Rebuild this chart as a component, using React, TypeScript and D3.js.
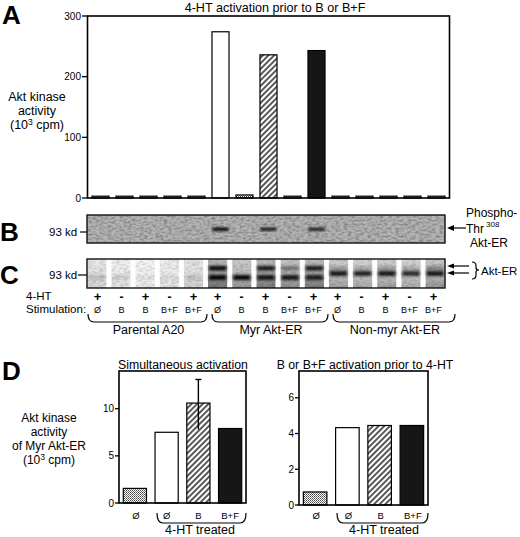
import React from 'react';
import * as d3 from 'd3';

const FONT = '"Liberation Sans", Arial, Helvetica, sans-serif';

// ---- data ----
const hormone = ['+', '-', '+', '-', '+', '+', '-', '+', '-', '+', '+', '-', '+', '-', '+'];
const stimulation = ['Ø', 'B', 'B', 'B+F', 'B+F', 'Ø', 'B', 'B', 'B+F', 'B+F', 'Ø', 'B', 'B', 'B+F', 'B+F'];
const groups = ['Parental A20', 'Myr Akt-ER', 'Non-myr Akt-ER'];
const activityA = [3, 3, 3, 3, 3, 274, 5, 236, 3, 243, 3, 3, 3, 3, 3];
const fillA = ['dots', 'dots', 'dots', 'dots', 'dots', 'white', 'dots', 'hatch', 'dots', 'black', 'dots', 'dots', 'dots', 'dots', 'dots'];
const ticksA = [0, 100, 200, 300];
const phosphoBand = [0, 0, 0, 0, 0, 1, 0, 0.85, 0, 0.85, 0, 0, 0, 0, 0];
const laneTone = [0.22, 0.15, 0.1, 0.15, 0.25, 0.75, 0.55, 0.7, 0.6, 0.7, 0.5, 0.45, 0.5, 0.45, 0.55];
const upperBand = [0, 0, 0, 0, 0, 1, 0, 0.9, 0.4, 0.9, 0.2, 0.15, 0.2, 0.15, 0.3];
const lowerBand = [0.15, 0.1, 0.05, 0.05, 0.1, 1, 1, 0.9, 0.9, 0.85, 0.9, 0.85, 0.9, 0.8, 0.9];
const categoriesD = ['Ø', 'Ø', 'B', 'B+F'];
const fillD = ['dots', 'white', 'hatch', 'black'];
const simultaneous = [1.55, 7.5, 10.6, 7.9];
const simultaneousErrLow = [null, null, 7.8, null];
const simultaneousErrHigh = [null, null, 13.1, null];
const prior = [0.73, 4.33, 4.45, 4.45];
const ticksD1 = [0, 5, 10];
const ticksD2 = [0, 2, 4, 6];

const fillUrl = (f: string) =>
  f === 'white' ? '#fff' : f === 'black' ? '#161616' : `url(#${f})`;

function Brace({ x1, x2, y1, y2 }: { x1: number; x2: number; y1: number; y2: number }) {
  const r = 6;
  const d = `M${x1},${y1} Q${x1},${y2} ${x1 + r},${y2} L${x2 - r},${y2} Q${x2},${y2} ${x2},${y1}`;
  return <path d={d} fill="none" stroke="#000" strokeWidth={1.2} />;
}

export default function App() {
  const lanes = d3.range(15);
  const xA = d3.scaleBand<number>().domain(lanes).range([88.5, 448.5]).paddingInner(0.29).paddingOuter(0.145);
  const yA = d3.scaleLinear().domain([0, 300]).range([198, 16]);
  const xC = d3.scaleBand<number>().domain(lanes).range([86, 446]).paddingInner(0.2).paddingOuter(0.05);

  const xD1 = d3.scaleBand<number>().domain([0, 1, 2, 3]).range([119, 246]).paddingInner(0.27).paddingOuter(0.135);
  const yD1 = d3.scaleLinear().domain([0, 14]).range([503, 371]);
  const xD2 = d3.scaleBand<number>().domain([0, 1, 2, 3]).range([299, 428]).paddingInner(0.27).paddingOuter(0.135);
  const yD2 = d3.scaleLinear().domain([0, 7.5]).range([505, 371]);

  const cx = (i: number) => (xA(i) as number) + xA.bandwidth() / 2;

  const groupSpans = [
    [88, 207],
    [212, 328],
    [333, 455],
  ];

  return (
    <svg
      width={520}
      height={537}
      style={{ position: 'absolute', left: 0, top: 0, background: '#fff' }}
      fontFamily={FONT}
    >
      <defs>
        <pattern id="dots" width={2} height={2} patternUnits="userSpaceOnUse">
          <rect width={2} height={2} fill="#fff" />
          <rect width={1} height={1} fill="#444" />
          <rect x={1} y={1} width={1} height={1} fill="#777" />
        </pattern>
        <pattern id="hatch" width={4} height={4} patternUnits="userSpaceOnUse" patternTransform="rotate(45)">
          <rect width={4} height={4} fill="#fff" />
          <line x1={1} y1={0} x2={1} y2={4} stroke="#111" strokeWidth={1.4} />
        </pattern>
        <filter id="grain" x="0" y="0" width="1" height="1">
          <feTurbulence type="fractalNoise" baseFrequency="0.25 0.5" numOctaves={3} seed={4} result="t" />
          <feColorMatrix in="t" type="matrix" values="0 0 0 0 0  0 0 0 0 0  0 0 0 0 0  -1.2 0 0 0 0.75" />
        </filter>
        <filter id="blur" x="-30%" y="-100%" width="160%" height="300%">
          <feGaussianBlur stdDeviation="0.9" />
        </filter>
        <filter id="blur2" x="-30%" y="-100%" width="160%" height="300%">
          <feGaussianBlur stdDeviation="1.4" />
        </filter>
        <linearGradient id="laneGrad" x1="0" y1="0" x2="0" y2="1">
          <stop offset="0" stopColor="#000" stopOpacity={0.35} />
          <stop offset="0.6" stopColor="#000" stopOpacity={0.5} />
          <stop offset="1" stopColor="#000" stopOpacity={0.75} />
        </linearGradient>
      </defs>

      {/* ===== Panel A ===== */}
      <text x={2} y={24} fontSize={26} fontWeight="bold">A</text>
      <text x={275} y={12} fontSize={12.6} textAnchor="middle">4-HT activation prior to B or B+F</text>
      <g fontSize={12.5} textAnchor="middle">
        <text x={37} y={101}>Akt kinase</text>
        <text x={37} y={115}>activity</text>
        <text x={37} y={129}>
          (10<tspan dy={-4} fontSize={8.5}>3</tspan>
          <tspan dy={4}> cpm)</tspan>
        </text>
      </g>
      {activityA.map((v, i) => (
        <rect
          key={i}
          x={xA(i)}
          y={yA(v)}
          width={xA.bandwidth()}
          height={yA(0) - yA(v)}
          fill={fillUrl(fillA[i])}
          stroke="#000"
          strokeWidth={1.2}
        />
      ))}
      <rect x={87.5} y={16} width={362} height={182} fill="none" stroke="#000" strokeWidth={1.6} />
      {ticksA.map((t) => (
        <g key={t}>
          <line x1={82} x2={87.5} y1={yA(t)} y2={yA(t)} stroke="#000" strokeWidth={1.3} />
          <text x={81} y={yA(t)} dy="0.35em" fontSize={10} textAnchor="end">{t}</text>
        </g>
      ))}

      {/* ===== Panel B ===== */}
      <text x={0} y={241} fontSize={26} fontWeight="bold">B</text>
      <text x={49} y={236} fontSize={11.5}>93 kd</text>
      <line x1={80} x2={87} y1={232} y2={232} stroke="#000" strokeWidth={1.2} />
      <rect x={87} y={215} width={358} height={28} fill="#b5b5b5" />
      <rect x={87} y={215} width={358} height={28} fill="#000" filter="url(#grain)" opacity={0.55} />
      {phosphoBand.map((b, i) =>
        b > 0 ? (
          <rect
            key={i}
            x={cx(i) - 8}
            y={227.5}
            width={16}
            height={3.5}
            fill="#0a0a0a"
            opacity={b}
            filter="url(#blur)"
          />
        ) : null
      )}
      <rect x={87} y={215} width={358} height={28} fill="none" stroke="#111" strokeWidth={1.4} />
      <line x1={452} x2={466} y1={228} y2={228} stroke="#000" strokeWidth={1.2} />
      <path d="M447,228 L454,225 L454,231 Z" fill="#000" />
      <g fontSize={12}>
        <text x={466} y={217}>Phospho-</text>
        <text x={466} y={233}>
          Thr<tspan dx={2} dy={-6} fontSize={8}>308</tspan>
        </text>
        <text x={470} y={247}>Akt-ER</text>
      </g>

      {/* ===== Panel C ===== */}
      <text x={0} y={284} fontSize={26} fontWeight="bold">C</text>
      <text x={49} y={279} fontSize={11.5}>93 kd</text>
      <line x1={78} x2={87} y1={275} y2={275} stroke="#000" strokeWidth={1.2} />
      <rect x={87} y={259} width={358} height={29} fill="#fff" />
      {laneTone.map((t, i) => (
        <rect
          key={i}
          x={xC(i)}
          y={259}
          width={xC.bandwidth()}
          height={29}
          fill="url(#laneGrad)"
          opacity={t}
        />
      ))}
      <rect x={87} y={259} width={358} height={29} fill="#000" filter="url(#grain)" opacity={0.3} />
      {lanes.slice(0, 14).map((i) => (
        <rect
          key={i}
          x={(xC(i) as number) + xC.bandwidth()}
          y={259}
          width={xC.step() - xC.bandwidth()}
          height={29}
          fill="#fff"
          opacity={0.9}
        />
      ))}
      {upperBand.map((b, i) =>
        b > 0 ? (
          <rect
            key={'u' + i}
            x={(xC(i) as number) + 1}
            y={266}
            width={xC.bandwidth() - 2}
            height={4.5}
            fill="#050505"
            opacity={b}
            filter="url(#blur2)"
          />
        ) : null
      )}
      {lowerBand.map((b, i) =>
        b > 0 ? (
          <rect
            key={'l' + i}
            x={(xC(i) as number) + 1}
            y={i >= 10 ? 271 : 275}
            width={xC.bandwidth() - 2}
            height={5}
            fill="#050505"
            opacity={b}
            filter="url(#blur2)"
          />
        ) : null
      )}
      <rect x={87} y={259} width={358} height={29} fill="none" stroke="#111" strokeWidth={1.4} />
      <line x1={452} x2={469} y1={266} y2={266} stroke="#000" strokeWidth={1.2} />
      <path d="M447,266 L454,263.5 L454,268.5 Z" fill="#000" />
      <line x1={452} x2={469} y1={273} y2={273} stroke="#000" strokeWidth={1.2} />
      <path d="M447,273 L454,270.5 L454,275.5 Z" fill="#000" />
      <path
        d="M472,262 Q476,262 476,266 L476,268 Q476,270 479,270 Q476,270 476,272 L476,275 Q476,279 472,279"
        fill="none"
        stroke="#000"
        strokeWidth={1.2}
      />
      <text x={481} y={275} fontSize={11.5}>Akt-ER</text>

      {/* lane annotations */}
      <text x={26} y={300} fontSize={11.5}>4-HT</text>
      <text x={26} y={313} fontSize={11.5}>Stimulation:</text>
      {hormone.map((h, i) => (
        <text key={'h' + i} x={cx(i) - 3} y={301} fontSize={h === '+' ? 13 : 12} fontWeight="bold" textAnchor="middle">
          {h}
        </text>
      ))}
      {stimulation.map((s, i) => (
        <text key={'s' + i} x={cx(i) - 3} y={313} fontSize={9} textAnchor="middle">
          {s}
        </text>
      ))}
      {groups.map((g, gi) => (
        <g key={g}>
          <Brace x1={groupSpans[gi][0]} x2={groupSpans[gi][1]} y1={314} y2={322} />
          <text x={(groupSpans[gi][0] + groupSpans[gi][1]) / 2 + 1} y={334} fontSize={12.5} textAnchor="middle">
            {g}
          </text>
        </g>
      ))}

      {/* ===== Panel D ===== */}
      <text x={2} y={380} fontSize={26} fontWeight="bold">D</text>
      <g fontSize={12} textAnchor="middle">
        <text x={49} y={422}>Akt kinase</text>
        <text x={49} y={436}>activity</text>
        <text x={49} y={450}>of Myr Akt-ER</text>
        <text x={49} y={464}>
          (10<tspan dy={-4} fontSize={8.5}>3</tspan>
          <tspan dy={4}> cpm)</tspan>
        </text>
      </g>

      {/* left chart */}
      <text x={183} y={369} fontSize={12.3} textAnchor="middle">Simultaneous activation</text>
      {simultaneous.map((v, i) => (
        <rect
          key={i}
          x={xD1(i)}
          y={yD1(v)}
          width={xD1.bandwidth()}
          height={yD1(0) - yD1(v)}
          fill={fillUrl(fillD[i])}
          stroke="#000"
          strokeWidth={1.2}
        />
      ))}
      {simultaneous.map((_, i) =>
        simultaneousErrLow[i] != null ? (
          <g key={'e' + i} stroke="#000" strokeWidth={1.4}>
            <line
              x1={(xD1(i) as number) + xD1.bandwidth() / 2}
              x2={(xD1(i) as number) + xD1.bandwidth() / 2}
              y1={yD1(simultaneousErrLow[i] as number)}
              y2={yD1(simultaneousErrHigh[i] as number)}
            />
            <line
              x1={(xD1(i) as number) + xD1.bandwidth() / 2 - 3}
              x2={(xD1(i) as number) + xD1.bandwidth() / 2 + 3}
              y1={yD1(simultaneousErrHigh[i] as number)}
              y2={yD1(simultaneousErrHigh[i] as number)}
            />
          </g>
        ) : null
      )}
      <rect x={119} y={371} width={127} height={132} fill="none" stroke="#000" strokeWidth={1.6} />
      {ticksD1.map((t) => (
        <g key={t}>
          <line x1={115} x2={119} y1={yD1(t)} y2={yD1(t)} stroke="#000" strokeWidth={1.3} />
          <text x={114} y={yD1(t)} dy="0.35em" fontSize={10} textAnchor="end">{t}</text>
        </g>
      ))}
      {categoriesD.map((c, i) => (
        <text key={c + i} x={(xD1(i) as number) + xD1.bandwidth() / 2 + (i === 0 ? 1 : 0)} y={519} fontSize={9.5} textAnchor="middle">
          {c}
        </text>
      ))}
      <Brace x1={157} x2={246} y1={513} y2={523} />
      <text x={200} y={534} fontSize={12.5} textAnchor="middle">4-HT treated</text>

      {/* right chart */}
      <text x={365} y={369} fontSize={12.3} textAnchor="middle">B or B+F activation prior to 4-HT</text>
      {prior.map((v, i) => (
        <rect
          key={i}
          x={xD2(i)}
          y={yD2(v)}
          width={xD2.bandwidth()}
          height={yD2(0) - yD2(v)}
          fill={fillUrl(fillD[i])}
          stroke="#000"
          strokeWidth={1.2}
        />
      ))}
      <rect x={299} y={371} width={129} height={134} fill="none" stroke="#000" strokeWidth={1.6} />
      {ticksD2.map((t) => (
        <g key={t}>
          <line x1={295} x2={299} y1={yD2(t)} y2={yD2(t)} stroke="#000" strokeWidth={1.3} />
          <text x={294} y={yD2(t)} dy="0.35em" fontSize={10} textAnchor="end">{t}</text>
        </g>
      ))}
      {categoriesD.map((c, i) => (
        <text key={c + i} x={(xD2(i) as number) + xD2.bandwidth() / 2 + 1} y={519} fontSize={9.5} textAnchor="middle">
          {c}
        </text>
      ))}
      <Brace x1={337} x2={428} y1={513} y2={523} />
      <text x={384} y={534} fontSize={12.5} textAnchor="middle">4-HT treated</text>
    </svg>
  );
}
